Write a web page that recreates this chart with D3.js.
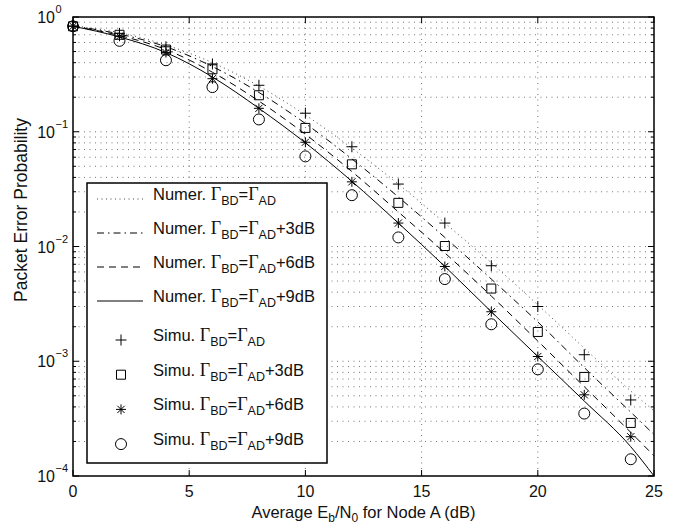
<!DOCTYPE html>
<html>
<head>
<meta charset="utf-8">
<script src="https://cdn.jsdelivr.net/npm/d3@7"></script>
<style>
  body { margin: 0; background: #fff; }
  svg { display: block; font-family: "Liberation Sans", Arial, sans-serif; }
</style>
</head>
<body>
<svg id="chart" width="689" height="527"></svg>
<script>
// --- data ---
const snrSim = [0, 2, 4, 6, 8, 10, 12, 14, 16, 18, 20, 22, 24];
const simPlus   = [0.835, 0.72, 0.55, 0.39, 0.254, 0.145, 0.074, 0.035, 0.016, 0.0068, 0.0030, 0.00114, 0.00046];
const simSquare = [0.83, 0.70, 0.52, 0.35, 0.208, 0.108, 0.052, 0.024, 0.0101, 0.0043, 0.0018, 0.00073, 0.00029];
const simStar   = [0.83, 0.68, 0.49, 0.29, 0.16, 0.081, 0.0366, 0.016, 0.0067, 0.0027, 0.0011, 0.00051, 0.00022];
const simCircle = [0.83, 0.62, 0.42, 0.245, 0.128, 0.061, 0.028, 0.012, 0.0052, 0.0021, 0.00085, 0.00035, 0.00014];

const snrNum = [0, 2, 4, 6, 8, 10, 12, 14, 16, 18, 20, 22, 24, 25];
const numDotted  = [0.84, 0.73, 0.57, 0.40, 0.25, 0.14, 0.072, 0.035, 0.016, 0.0072, 0.0031, 0.0013, 0.00055, 0.00037];
const numDashDot = [0.835, 0.71, 0.55, 0.37, 0.22, 0.118, 0.058, 0.027, 0.012, 0.0052, 0.0022, 0.00088, 0.00036, 0.00023];
const numDashed  = [0.83, 0.69, 0.52, 0.33, 0.185, 0.095, 0.045, 0.020, 0.0088, 0.0037, 0.0015, 0.0006, 0.00024, 0.00015];
const numSolid   = [0.83, 0.67, 0.49, 0.30, 0.16, 0.08, 0.037, 0.016, 0.0067, 0.0027, 0.0011, 0.00045, 0.00018, 0.0001];

const xTicks = [0, 5, 10, 15, 20, 25];
const yDecades = [0, -1, -2, -3, -4];
const legendSuffix = ['', '+3dB', '+6dB', '+9dB'];

// --- layout ---
const svg = d3.select('#chart');
const plot = { left: 73, top: 17, right: 654, bottom: 476 };

const x = d3.scaleLinear().domain([0, 25]).range([plot.left, plot.right]);
const y = d3.scaleLog().domain([1e-4, 1]).range([plot.bottom, plot.top]);

const lineStyles = [
  { dash: '1,3.5', values: numDotted, width: 0.9, color: '#333' },
  { dash: '7,4,1.5,4', values: numDashDot, width: 1, color: '#000' },
  { dash: '7,5', values: numDashed, width: 1, color: '#000' },
  { dash: null, values: numSolid, width: 1, color: '#000' }
];

const markerPaths = {
  plus: 'M-5.5,0H5.5M0,-5.5V5.5',
  square: 'M-4.5,-4.5H4.5V4.5H-4.5Z',
  star: 'M-5,0H5M0,-5V5M-3.6,-3.6L3.6,3.6M-3.6,3.6L3.6,-3.6',
  circle: 'M5.5,0A5.5,5.5 0 1,1 -5.5,0A5.5,5.5 0 1,1 5.5,0Z'
};
const markerSeries = [
  { shape: 'plus', values: simPlus },
  { shape: 'square', values: simSquare },
  { shape: 'star', values: simStar },
  { shape: 'circle', values: simCircle }
];

// minor positions on the log axis: 2..9 in every decade
const minorTicks = [];
for (let e = -4; e < 0; e++) {
  for (let m = 2; m <= 9; m++) minorTicks.push(m * Math.pow(10, e));
}

// --- grid ---
const grid = svg.append('g').attr('class', 'grid')
  .attr('stroke', '#555').attr('stroke-width', 0.8).attr('stroke-dasharray', '1,4.5');

grid.selectAll('line.gx')
  .data(xTicks.slice(1, -1))
  .join('line')
  .attr('x1', d => x(d)).attr('x2', d => x(d))
  .attr('y1', plot.top).attr('y2', plot.bottom);

grid.selectAll('line.gy')
  .data(yDecades.slice(1, -1).map(e => Math.pow(10, e)).concat(minorTicks))
  .join('line')
  .attr('x1', plot.left).attr('x2', plot.right)
  .attr('y1', d => y(d)).attr('y2', d => y(d));

// --- ticks (inward, both sides) ---
const ticks = svg.append('g').attr('stroke', '#000').attr('stroke-width', 1);

xTicks.forEach(t => {
  ticks.append('line').attr('x1', x(t)).attr('x2', x(t)).attr('y1', plot.bottom).attr('y2', plot.bottom - 6);
  ticks.append('line').attr('x1', x(t)).attr('x2', x(t)).attr('y1', plot.top).attr('y2', plot.top + 6);
});
yDecades.forEach(e => {
  const v = y(Math.pow(10, e));
  ticks.append('line').attr('x1', plot.left).attr('x2', plot.left + 6).attr('y1', v).attr('y2', v);
  ticks.append('line').attr('x1', plot.right).attr('x2', plot.right - 6).attr('y1', v).attr('y2', v);
});
minorTicks.forEach(m => {
  const v = y(m);
  ticks.append('line').attr('x1', plot.left).attr('x2', plot.left + 3).attr('y1', v).attr('y2', v);
  ticks.append('line').attr('x1', plot.right).attr('x2', plot.right - 3).attr('y1', v).attr('y2', v);
});

// --- numerical curves ---
const curves = svg.append('g').attr('class', 'curves').attr('fill', 'none');
lineStyles.forEach(s => {
  const line = d3.line()
    .x((d, i) => x(snrNum[i]))
    .y(d => y(d))
    .curve(d3.curveMonotoneX);
  curves.append('path')
    .attr('d', line(s.values))
    .attr('stroke', s.color)
    .attr('stroke-width', s.width)
    .attr('stroke-dasharray', s.dash);
});

// --- simulation markers ---
const marks = svg.append('g').attr('class', 'markers')
  .attr('fill', 'none').attr('stroke', '#000').attr('stroke-width', 1);
markerSeries.forEach(s => {
  marks.append('g').selectAll('path')
    .data(s.values)
    .join('path')
    .attr('transform', (d, i) => `translate(${x(snrSim[i])},${y(d)})`)
    .attr('d', markerPaths[s.shape]);
});

// --- axes box ---
svg.append('rect')
  .attr('x', plot.left).attr('y', plot.top)
  .attr('width', plot.right - plot.left).attr('height', plot.bottom - plot.top)
  .attr('fill', 'none').attr('stroke', '#000').attr('stroke-width', 1.5);

// --- tick labels ---
const labels = svg.append('g').attr('fill', '#111');
labels.selectAll('text.xt')
  .data(xTicks)
  .join('text')
  .attr('x', d => x(d)).attr('y', plot.bottom + 21)
  .attr('text-anchor', 'middle').attr('font-size', 16)
  .text(d => d);

yDecades.forEach(e => {
  const v = y(Math.pow(10, e));
  labels.append('text')
    .attr('x', 55).attr('y', v + 6)
    .attr('text-anchor', 'end').attr('font-size', 16)
    .text('10');
  labels.append('text')
    .attr('x', 55.5).attr('y', v - 4)
    .attr('font-size', 11)
    .text(e === 0 ? '0' : '\u2212' + (-e));
});

// axis titles
const xTitle = labels.append('text')
  .attr('x', (plot.left + plot.right) / 2).attr('y', 518)
  .attr('text-anchor', 'middle').attr('font-size', 16.5);
xTitle.append('tspan').text('Average E');
xTitle.append('tspan').attr('font-size', 12).attr('dy', 4).text('b');
xTitle.append('tspan').attr('dy', -4).text('/N');
xTitle.append('tspan').attr('font-size', 12).attr('dy', 4).text('0');
xTitle.append('tspan').attr('dy', -4).text(' for Node A (dB)');

labels.append('text')
  .attr('transform', 'translate(27,210) rotate(-90)')
  .attr('text-anchor', 'middle').attr('font-size', 17.5)
  .text('Packet Error Probability');

// --- legend ---
const legend = { left: 87, top: 183, width: 240, height: 280 };
const lg = svg.append('g').attr('class', 'legend');
lg.append('rect')
  .attr('x', legend.left).attr('y', legend.top)
  .attr('width', legend.width).attr('height', legend.height)
  .attr('fill', '#fff').attr('stroke', '#000').attr('stroke-width', 1.5);

// line rows sit a little tighter than the marker rows in the original
const entries = lineStyles.map((s, i) => ({ kind: 'line', style: s, prefix: 'Numer.', suffix: legendSuffix[i], cy: 199 + 34 * i }))
  .concat(markerSeries.map((s, i) => ({ kind: 'marker', shape: s.shape, prefix: 'Simu.', suffix: legendSuffix[i], cy: 340 + 34.7 * i })));

const serif = '"Liberation Serif", "Times New Roman", serif';
entries.forEach(d => {
  const cy = d.cy;
  if (d.kind === 'line') {
    lg.append('line')
      .attr('x1', 97).attr('x2', 143).attr('y1', cy).attr('y2', cy)
      .attr('stroke', d.style.color).attr('stroke-width', d.style.width)
      .attr('stroke-dasharray', d.style.dash);
  } else {
    lg.append('path')
      .attr('transform', `translate(121,${cy})`)
      .attr('d', markerPaths[d.shape])
      .attr('fill', 'none').attr('stroke', '#000').attr('stroke-width', 1);
  }
  const t = lg.append('text').attr('x', 153).attr('y', cy + 1).attr('font-size', 16.5).attr('fill', '#111');
  t.append('tspan').text(d.prefix + ' ');
  t.append('tspan').attr('font-family', serif).attr('font-size', 18).text('\u0393');
  t.append('tspan').attr('font-size', 12.5).attr('dy', 5).text('BD');
  t.append('tspan').attr('dy', -5).text('=');
  t.append('tspan').attr('font-family', serif).attr('font-size', 18).text('\u0393');
  t.append('tspan').attr('font-size', 12.5).attr('dy', 5).text('AD');
  if (d.suffix) t.append('tspan').attr('dy', -5).text(d.suffix);
});
</script>
</body>
</html>
